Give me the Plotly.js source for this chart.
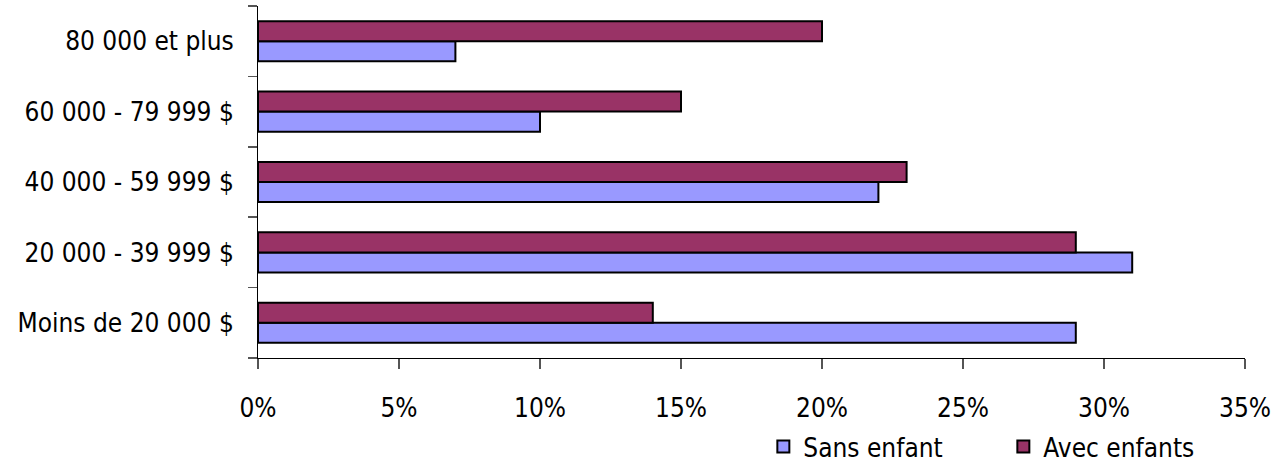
<!DOCTYPE html>
<html>
<head>
<meta charset="utf-8">
<script src="https://cdn.plot.ly/plotly-3.0.1.min.js"></script>
<style>html,body{margin:0;padding:0;background:#fff;}#chart{width:1274px;height:462px;}</style>
</head>
<body>
<div id="chart"></div>
<script>
var categories = ["Moins de 20 000 $", "20 000 - 39 999 $", "40 000 - 59 999 $", "60 000 - 79 999 $", "80 000 et plus"];
var sansEnfant = [29, 31, 22, 10, 7];
var avecEnfants = [14, 29, 23, 15, 20];
var xTickVals = [0, 5, 10, 15, 20, 25, 30, 35];

var fontFamily = '"Liberation Sans Narrow", "Arial Narrow", "DejaVu Sans Condensed", sans-serif';

var traces = [
  {
    type: 'bar', orientation: 'h', name: 'Sans enfant',
    y: categories, x: sansEnfant,
    marker: {color: '#9999FF', line: {color: '#000000', width: 2}},
    hoverinfo: 'x+y'
  },
  {
    type: 'bar', orientation: 'h', name: 'Avec enfants',
    y: categories, x: avecEnfants,
    marker: {color: '#993366', line: {color: '#000000', width: 2}},
    hoverinfo: 'x+y'
  }
];

var layout = {
  width: 1274, height: 462,
  margin: {l: 258, r: 29, t: 6, b: 104, autoexpand: false},
  paper_bgcolor: '#ffffff', plot_bgcolor: '#ffffff',
  barmode: 'group', bargap: 0.43, bargroupgap: 0,
  font: {family: fontFamily, size: 26, color: '#000000'},
  showlegend: true,
  legend: {
    orientation: 'h', x: 0.512, xanchor: 'left', y: -0.185, yanchor: 'top',
    font: {family: fontFamily, size: 26, color: '#000000'},
    entrywidth: 195, entrywidthmode: 'pixels', itemwidth: 30,
    bgcolor: 'rgba(0,0,0,0)'
  },
  xaxis: {
    range: [0, 35], tickmode: 'array', tickvals: xTickVals,
    ticktext: xTickVals.map(function(v){return v + '%';}),
    showgrid: false, zeroline: false, automargin: false,
    showline: true, linecolor: '#000000', linewidth: 1,
    ticks: 'outside', ticklen: 10, tickcolor: '#555555', tickwidth: 1.5,
    ticklabelstandoff: 17,
    fixedrange: true
  },
  yaxis: {
    type: 'category', range: [-0.5, 4.5], automargin: false,
    showgrid: false, zeroline: false,
    showline: true, linecolor: '#000000', linewidth: 1,
    ticks: 'outside', ticklen: 9, tickcolor: '#555555', tickwidth: 1.5,
    tickson: 'boundaries', ticklabelstandoff: 18,
    fixedrange: true
  }
};

Plotly.newPlot('chart', traces, layout, {displayModeBar: false, staticPlot: true});
</script>
</body>
</html>
